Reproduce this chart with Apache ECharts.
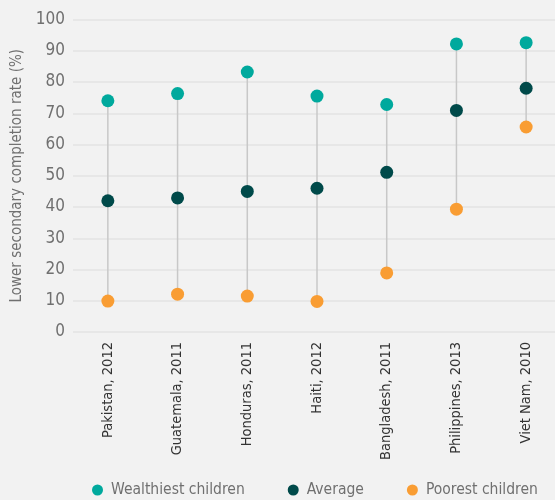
<!DOCTYPE html>
<html><head><meta charset="utf-8">
<script src="https://cdn.jsdelivr.net/npm/echarts@6/dist/echarts.min.js"></script>
<style>html,body{margin:0;padding:0;background:#f2f2f2}#c{width:555px;height:500px}</style>
</head><body><div id="c"></div>
<script>
const categories = ["Pakistan, 2012","Guatemala, 2011","Honduras, 2011","Haiti, 2012","Bangladesh, 2011","Philippines, 2013","Viet Nam, 2010"];
const wealthiest = [74, 76.3, 83.2, 75.5, 72.8, 92.2, 92.6];
const average = [42, 42.9, 45, 46, 51.1, 70.9, 78];
const poorest = [9.9, 12.1, 11.5, 9.8, 18.9, 39.3, 65.6];
const yTicks = {min: 0, max: 100, interval: 10};

const font = "'Liberation Sans Narrow', 'DejaVu Sans Condensed', sans-serif";
const chart = echarts.init(document.getElementById('c'));
const ranges = categories.map((c, i) => [i, poorest[i], wealthiest[i]]);
chart.setOption({
  backgroundColor: '#f2f2f2',
  animation: false,
  textStyle: {fontFamily: font},
  grid: {left: 73, right: -6, top: 19.5, height: 312.5, outerBoundsMode: 'none', containLabel: false},
  legend: {
    bottom: -3, left: 87, width: 480, itemGap: 43, itemWidth: 11, itemHeight: 11,
    icon: 'circle',
    textStyle: {fontFamily: font, fontSize: 15.5, color: '#707070', padding: [0, 0, 0, 3]},
    data: ['Wealthiest children', 'Average', 'Poorest children']
  },
  xAxis: {
    type: 'category', data: categories,
    axisLine: {show: false}, axisTick: {show: false},
    axisLabel: {rotate: 90, fontSize: 14.5, color: '#333', margin: 10, interval: 0}
  },
  yAxis: {
    type: 'value', min: yTicks.min, max: yTicks.max, interval: yTicks.interval,
    name: 'Lower secondary completion rate (%)', nameLocation: 'middle', nameGap: 44,
    nameTextStyle: {fontSize: 15, color: '#707070', fontFamily: font},
    axisLine: {show: false}, axisTick: {show: false},
    axisLabel: {fontSize: 17, color: '#707070', margin: 8},
    splitLine: {lineStyle: {color: '#e3e3e3', width: 1.5}}
  },
  series: [
    {
      type: 'custom', silent: true, z: 1,
      data: ranges,
      renderItem: function (params, api) {
        const a = api.coord([api.value(0), api.value(1)]);
        const b = api.coord([api.value(0), api.value(2)]);
        return {type: 'line', shape: {x1: a[0], y1: a[1], x2: b[0], y2: b[1]},
                style: {stroke: '#c8c8c8', lineWidth: 1.5}};
      }
    },
    {name: 'Wealthiest children', type: 'scatter', z: 3, symbolSize: 13, data: wealthiest, itemStyle: {color: '#00a99d', opacity: 1}},
    {name: 'Average', type: 'scatter', z: 3, symbolSize: 13, data: average, itemStyle: {color: '#004a4a', opacity: 1}},
    {name: 'Poorest children', type: 'scatter', z: 3, symbolSize: 13, data: poorest, itemStyle: {color: '#f99d33', opacity: 1}}
  ]
});
</script></body></html>
